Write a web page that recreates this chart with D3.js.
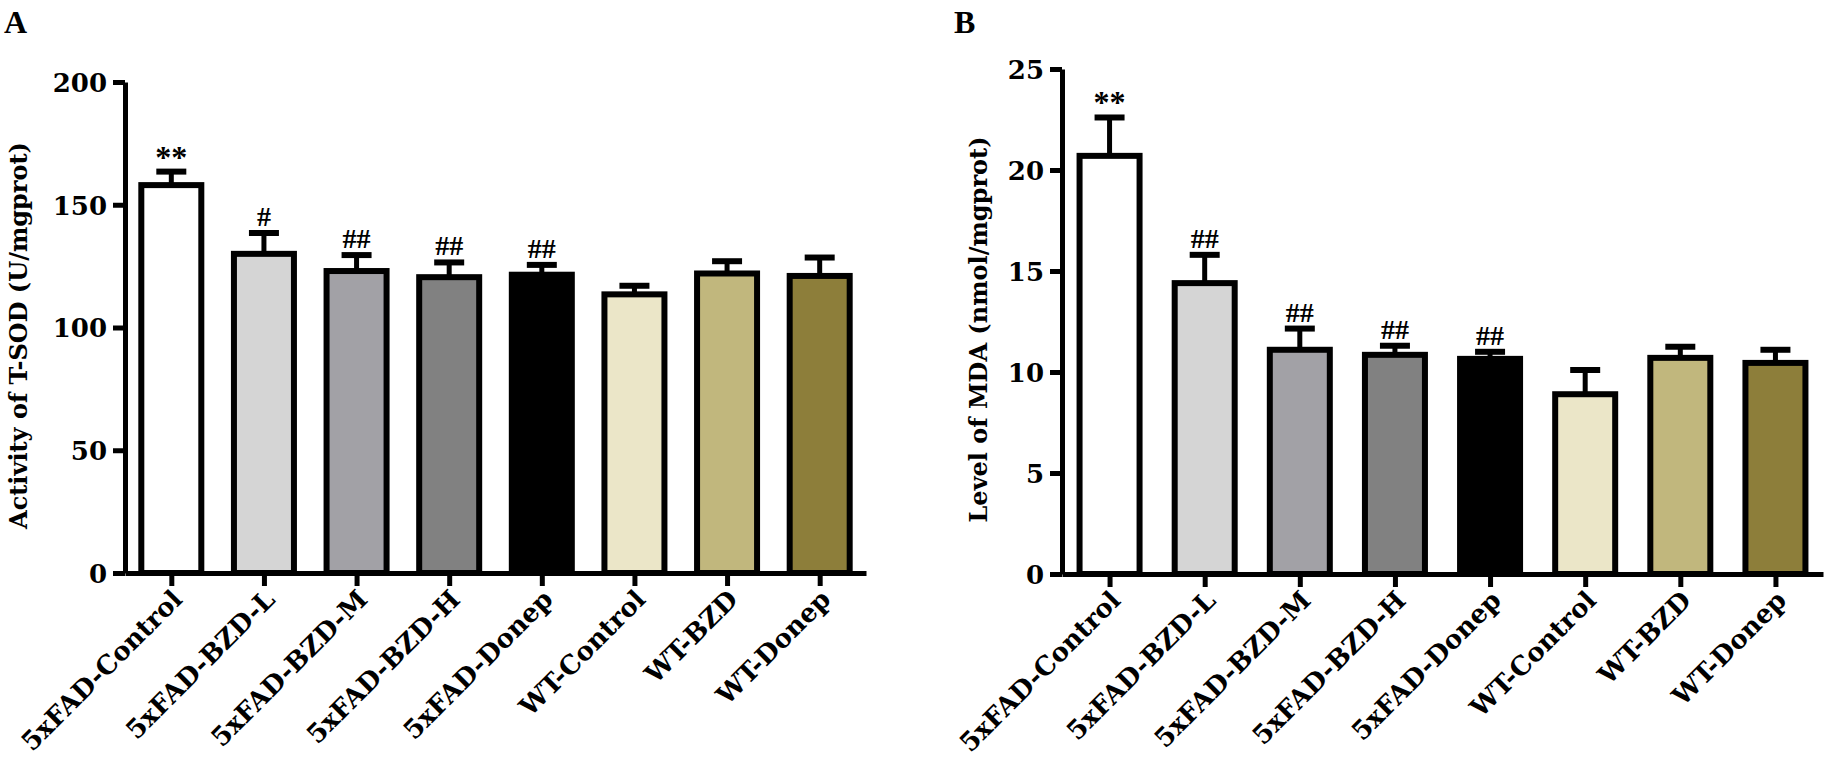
<!DOCTYPE html>
<html>
<head>
<meta charset="utf-8">
<script src="https://cdn.jsdelivr.net/npm/d3@7"></script>
<style>
    body { margin: 0; background: #fff; }
    svg text { font-family: "DejaVu Serif", serif; font-weight: bold; fill: #000; }
</style>
</head>
<body>
<svg id="chart" width="1827" height="777"></svg>
<script>
const categories = ["5xFAD-Control", "5xFAD-BZD-L", "5xFAD-BZD-M", "5xFAD-BZD-H", "5xFAD-Donep", "WT-Control", "WT-BZD", "WT-Donep"];
const barColors = ["#ffffff", "#d5d5d5", "#a2a1a6", "#818181", "#000000", "#ebe6c8", "#c1b77d", "#8d7e3a"];

const sodMeans = [158, 130, 123, 120.5, 121.5, 113.5, 122, 121];
const sodErrors = [5.5, 8.5, 6.5, 6, 4, 3.5, 5, 7.5];
const sodMarks = ["**", "#", "##", "##", "##", "", "", ""];
const sodTicks = [0, 50, 100, 150, 200];

const mdaMeans = [20.7, 14.4, 11.1, 10.85, 10.65, 8.9, 10.7, 10.45];
const mdaErrors = [1.9, 1.4, 1.05, 0.45, 0.35, 1.2, 0.55, 0.65];
const mdaMarks = ["**", "##", "##", "##", "##", "", "", ""];
const mdaTicks = [0, 5, 10, 15, 20, 25];

window.onload = () => {
    let svg = d3.select("#chart");

    function drawPanel(opts) {
        let g = svg.append("g");

        let x = d3.scalePoint()
        .domain(categories)
        .range([opts.left, opts.right])
        .padding(0.5);

        let y = d3.scaleLinear()
        .domain([0, opts.max])
        .range([opts.bottom, opts.top]);

        let data = categories.map((c, i) => ({name: c, mean: opts.means[i], err: opts.errors[i], mark: opts.marks[i], color: barColors[i]}));

        // error bars (upper only)
        let eb = g.selectAll(".err")
        .data(data)
        .enter()
        .append("g");

        eb.append("line")
        .attr("x1", d => x(d.name))
        .attr("x2", d => x(d.name))
        .attr("y1", d => y(d.mean))
        .attr("y2", d => y(d.mean + d.err))
        .attr("stroke", "#000")
        .attr("stroke-width", 5);

        eb.append("line")
        .attr("x1", d => x(d.name) - 15)
        .attr("x2", d => x(d.name) + 15)
        .attr("y1", d => y(d.mean + d.err))
        .attr("y2", d => y(d.mean + d.err))
        .attr("stroke", "#000")
        .attr("stroke-width", 6);

        g.selectAll(".bar")
        .data(data)
        .enter()
        .append("rect")
        .attr("x", d => x(d.name) - 30)
        .attr("y", d => y(d.mean))
        .attr("width", 60)
        .attr("height", d => y(0) - y(d.mean))
        .attr("fill", d => d.color)
        .attr("stroke", "#000")
        .attr("stroke-width", 6);

        g.selectAll(".mark")
        .data(data.filter(d => d.mark !== ""))
        .enter()
        .append("text")
        .attr("x", d => x(d.name))
        .attr("y", d => y(d.mean + d.err) - (d.mark === "**" ? 4 : 7))
        .attr("text-anchor", "middle")
        .style("font-family", "Liberation Serif, serif")
        .style("font-size", d => d.mark === "**" ? "32px" : "28px")
        .text(d => d.mark);

        let yAxis = g.append("g")
        .attr("transform", `translate(${opts.left},0)`)
        .call(d3.axisLeft(y).tickValues(opts.ticks).tickSize(12).tickSizeOuter(0).tickPadding(6));

        let xAxis = g.append("g")
        .attr("transform", `translate(0,${opts.bottom})`)
        .call(d3.axisBottom(x).tickSize(13).tickSizeOuter(0).tickPadding(0));

        [yAxis, xAxis].forEach(a => {
            a.select(".domain").attr("stroke", "#000").attr("stroke-width", 5);
            a.selectAll(".tick line").attr("stroke", "#000").attr("stroke-width", 5);
            a.selectAll(".tick text").style("font-size", "26px").attr("fill", "#000");
        });

        yAxis.selectAll(".tick text").attr("dy", "0.36em");

        xAxis.selectAll(".tick text")
        .attr("text-anchor", "end")
        .attr("dy", 0)
        .attr("y", 0)
        .attr("transform", "translate(12,28) rotate(-45)");

        g.append("text")
        .attr("transform", `translate(${opts.titleX},${(opts.top + opts.bottom) / 2 + 8}) rotate(-90)`)
        .attr("text-anchor", "middle")
        .style("font-size", "24px")
        .text(opts.title);

        g.append("text")
        .attr("x", opts.letterX)
        .attr("y", 33)
        .style("font-family", "Liberation Serif, serif")
        .style("font-size", "32px")
        .text(opts.letter);
    }

    drawPanel({
        left: 125, right: 866, top: 82, bottom: 573, max: 200,
        means: sodMeans, errors: sodErrors, marks: sodMarks, ticks: sodTicks,
        title: "Activity of T-SOD (U/mgprot)", titleX: 27, letter: "A", letterX: 4
    });

    drawPanel({
        left: 1062, right: 1823, top: 69, bottom: 574, max: 25,
        means: mdaMeans, errors: mdaErrors, marks: mdaMarks, ticks: mdaTicks,
        title: "Level of MDA (nmol/mgprot)", titleX: 987, letter: "B", letterX: 954
    });
}
</script>
</body>
</html>
